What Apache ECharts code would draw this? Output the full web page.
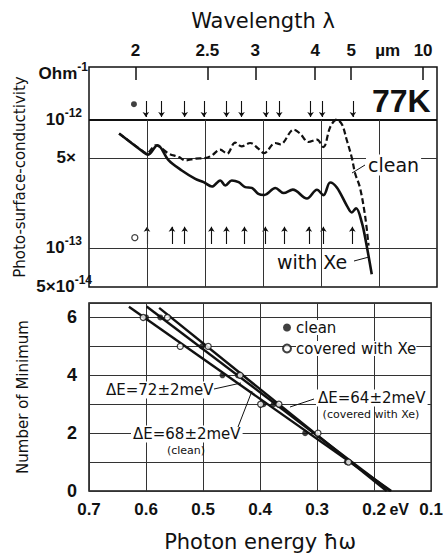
<!DOCTYPE html>
<html><head><meta charset="utf-8">
<script src="https://cdn.jsdelivr.net/npm/echarts@6/dist/echarts.min.js"></script>
<style>html,body{margin:0;padding:0;background:#fff}#c{width:446px;height:558px}</style>
</head><body><div id="c"></div>
<script>
// ---------- DATA ----------
// Top panel: photo-surface-conductivity (Ohm^-1) vs photon energy (eV)
const cleanEnergy = [0.648,0.605,0.600,0.585,0.5625,0.545,0.534,0.517,0.4995,0.488,0.474,0.462,0.448,0.437,0.422,0.408,0.398,0.379,0.370,0.347,0.336,0.3215,0.307,0.296,0.284,0.273,0.264,0.2555,0.247,0.241,0.233,0.224,0.218];
const cleanSigma  = [7.80e-13,5.60e-13,5.50e-13,6.33e-13,5.45e-13,5.12e-13,4.83e-13,4.98e-13,5.03e-13,5.28e-13,5.85e-13,5.45e-13,6.64e-13,6.21e-13,6.59e-13,5.96e-13,5.50e-13,6.59e-13,6.44e-13,8.38e-13,7.80e-13,6.71e-13,7.00e-13,6.13e-13,8.79e-13,1.00e-12,9.22e-13,6.92e-13,5.09e-13,3.80e-13,2.99e-13,1.79e-13,1.05e-13];
const xeEnergy = [0.648,0.605,0.598,0.582,0.5625,0.540,0.5167,0.5024,0.488,0.4737,0.465,0.4538,0.442,0.4307,0.4194,0.408,0.3976,0.3787,0.3644,0.3486,0.3242,0.307,0.2957,0.2842,0.2727,0.2555,0.2469,0.2395,0.2297,0.2223,0.2125];
const xeSigma  = [7.80e-13,5.55e-13,5.35e-13,6.33e-13,4.83e-13,4.03e-13,3.47e-13,3.27e-13,3.02e-13,3.37e-13,3.08e-13,3.37e-13,3.27e-13,2.99e-13,2.95e-13,2.65e-13,2.60e-13,2.94e-13,2.69e-13,2.86e-13,2.44e-13,2.85e-13,2.59e-13,3.25e-13,2.97e-13,2.15e-13,1.90e-13,2.05e-13,1.59e-13,1.11e-13,6.28e-14];
// minima marked by arrows (eV)
const cleanMinima = [0.602,0.575,0.535,0.502,0.463,0.437,0.395,0.372,0.318,0.298,0.245];
const xeMinima    = [0.600,0.557,0.535,0.489,0.463,0.432,0.396,0.363,0.321,0.296,0.246];
// symbol keys in top panel
const cleanKey = [0.6225, 1.32e-12];
const xeKey    = [0.621, 1.21e-13];
// axis ticks
const wavelengthTicks = [2, 2.5, 3, 4, 5, 10];   // µm
const unitLabelAt = 6.7;                        // where "µm" sits (µm)
const energyTicks = [0.7, 0.6, 0.5, 0.4, 0.3, 0.2, 0.1]; // eV
const sigmaTicks = [1e-12, 5e-13, 1e-13, 5e-14];
const minimumTicks = [0, 2, 4, 6];
// Bottom panel: number of minimum vs photon energy
const cleanPointE = [0.600,0.575,0.502,0.466,0.439,0.394,0.376,0.321,0.248];
const cleanPointN = [6,6,5,4,4,3,3,2,1];
const xePointE = [0.605,0.5625,0.540,0.491,0.435,0.399,0.367,0.2985,0.245];
const xePointN = [6,6,5,5,4,3,3,2,1];
const fit72 = [[0.630,6.37],[0.170,0]];
const fit68 = [[0.599,6.38],[0.172,0]];
const fit64 = [[0.577,6.33],[0.178,0]];

// ---------- STYLE / LAYOUT ----------
const HC = 1.2398; // eV·µm
const INK = '#111';
const WORD = "'DejaVu Sans', sans-serif";
const NUM = "'Liberation Sans', Arial, sans-serif";
const arrowDown = [1.40e-12, 1.05e-12];
const arrowUp = [1.08e-13, 1.47e-13];
const zip = (a, b) => a.map((v, i) => [v, b[i]]);

const chart = echarts.init(document.getElementById('c'), null, {renderer: 'svg'});
const gridLine = {color: '#333', width: 1, type: 'solid'};
const eMin = energyTicks[energyTicks.length - 1], eMax = energyTicks[0];

chart.setOption({
  animation: false,
  backgroundColor: '#fff',
  grid: [
    {left: 89, right: 9, top: 67, height: 220, show: true, borderColor: INK, borderWidth: 1.5},
    {left: 89, right: 9, top: 303, height: 188, show: true, borderColor: INK, borderWidth: 1.5}
  ],
  xAxis: [
    {gridIndex: 0, type: 'value', min: eMin, max: eMax, inverse: true, position: 'top',
     axisLine: {show: false},
     axisTick: {show: true, inside: true, length: 13, customValues: wavelengthTicks.map(l => HC / l),
                lineStyle: {color: INK, width: 1.5}},
     axisLabel: {show: true, margin: 8, fontSize: 17, fontWeight: 'bold', fontFamily: NUM, color: INK,
                 customValues: wavelengthTicks.map(l => HC / l).concat([HC / unitLabelAt]),
                 formatter: v => { const l = HC / v; return Math.abs(l - unitLabelAt) < 1e-6 ? 'µm' : String(+l.toFixed(1)); }},
     splitLine: {show: false},
     name: 'Wavelength λ', nameLocation: 'middle', nameGap: 36,
     nameTextStyle: {fontSize: 21, fontFamily: WORD, color: INK}},
    {gridIndex: 1, type: 'value', min: eMin, max: eMax, inverse: true, interval: 0.1, position: 'bottom',
     axisLine: {show: false}, axisTick: {show: false},
     axisLabel: {margin: 10, fontSize: 17, fontWeight: 'bold', fontFamily: NUM, color: INK,
                 formatter: v => { const s = v.toFixed(1); return s === '0.2' ? '{pad|}' + s + '{u| eV}' : s; },
                 rich: {pad: {width: 22}, u: {width: 22, align: 'left', fontSize: 16, fontFamily: NUM, fontWeight: 'bold', color: INK}}},
     splitLine: {show: true, lineStyle: gridLine},
     name: 'Photon energy ħω', nameLocation: 'middle', nameGap: 40,
     nameTextStyle: {fontSize: 21, fontFamily: WORD, color: INK}}
  ],
  yAxis: [
    {gridIndex: 0, type: 'log', logBase: 10, min: 5e-14, max: 2.57e-12,
     axisLine: {show: false}, axisTick: {show: false}, axisLabel: {show: false}, splitLine: {show: false},
     name: 'Photo-surface-conductivity', nameLocation: 'middle', nameGap: 62,
     nameTextStyle: {fontSize: 15, fontFamily: WORD, color: INK}},
    {gridIndex: 1, type: 'value', min: 0, max: 6.5, interval: 1,
     axisLine: {show: false}, axisTick: {show: false},
     axisLabel: {customValues: minimumTicks, margin: 12, fontSize: 18, fontWeight: 'bold', fontFamily: NUM, color: INK},
     splitLine: {show: true, lineStyle: gridLine},
     name: 'Number of Minimum', nameLocation: 'middle', nameGap: 59,
     nameTextStyle: {fontSize: 15, fontFamily: WORD, color: INK}}
  ],
  legend: {
    show: true, orient: 'vertical', left: 277, top: 315, itemGap: 6, itemWidth: 8, itemHeight: 8,
    data: ['clean', 'covered with Xe'],
    textStyle: {fontSize: 15, fontFamily: WORD, color: INK, backgroundColor: '#fff'}
  },
  series: [
    {name: 'clean curve', type: 'line', xAxisIndex: 0, yAxisIndex: 0, data: zip(cleanEnergy, cleanSigma),
     smooth: 0.35, showSymbol: false, lineStyle: {color: INK, width: 2.2, type: [6, 3]}, z: 5,
     markLine: {silent: true, symbol: 'none', label: {show: false},
       data: [
         [{coord: [eMax, sigmaTicks[0]], lineStyle: {color: INK, width: 2, type: 'solid'}}, {coord: [eMin, sigmaTicks[0]]}],
         [{coord: [eMax, sigmaTicks[1]], lineStyle: gridLine}, {coord: [eMin, sigmaTicks[1]]}],
         [{coord: [eMax, sigmaTicks[2]], lineStyle: gridLine}, {coord: [eMin, sigmaTicks[2]]}]
       ].concat(energyTicks.slice(1, -1).map(e => [
         {coord: [e, sigmaTicks[0]], lineStyle: gridLine}, {coord: [e, sigmaTicks[3]]}
       ]))}},
    {name: 'with Xe curve', type: 'line', xAxisIndex: 0, yAxisIndex: 0, data: zip(xeEnergy, xeSigma),
     smooth: 0.35, showSymbol: false, lineStyle: {color: INK, width: 2.6}, z: 5},
    {type: 'lines', coordinateSystem: 'cartesian2d', xAxisIndex: 0, yAxisIndex: 0,
     data: cleanMinima.map(e => ({coords: [[e, arrowDown[0]], [e, arrowDown[1]]]})),
     symbol: ['none', 'arrow'], symbolSize: 5, lineStyle: {color: INK, width: 1.1, opacity: 1}},
    {type: 'lines', coordinateSystem: 'cartesian2d', xAxisIndex: 0, yAxisIndex: 0,
     data: xeMinima.map(e => ({coords: [[e, arrowUp[0]], [e, arrowUp[1]]]})),
     symbol: ['none', 'arrow'], symbolSize: 5, lineStyle: {color: INK, width: 1.1, opacity: 1}},
    {type: 'scatter', xAxisIndex: 0, yAxisIndex: 0, data: [cleanKey], symbolSize: 6, itemStyle: {color: INK}},
    {type: 'scatter', xAxisIndex: 0, yAxisIndex: 0, data: [xeKey], symbolSize: 6,
     itemStyle: {color: '#fff', borderColor: INK, borderWidth: 1.3}},
    {type: 'line', xAxisIndex: 1, yAxisIndex: 1, data: fit72, showSymbol: false, lineStyle: {color: INK, width: 2.4}},
    {type: 'line', xAxisIndex: 1, yAxisIndex: 1, data: fit68, showSymbol: false, lineStyle: {color: INK, width: 2.4}},
    {type: 'line', xAxisIndex: 1, yAxisIndex: 1, data: fit64, showSymbol: false, lineStyle: {color: INK, width: 2.4}},
    {name: 'clean', type: 'scatter', xAxisIndex: 1, yAxisIndex: 1, data: zip(cleanPointE, cleanPointN),
     symbolSize: 6, itemStyle: {color: INK}, z: 6},
    {name: 'covered with Xe', type: 'scatter', xAxisIndex: 1, yAxisIndex: 1, data: zip(xePointE, xePointN),
     symbolSize: 6, itemStyle: {color: '#fff', borderColor: INK, borderWidth: 1.3}, z: 7}
  ]
});

// ---------- text annotations ----------
const supRich = {
  m: {fontSize: 17, fontWeight: 'bold', fontFamily: NUM, lineHeight: 22, verticalAlign: 'bottom', fill: INK},
  s: {fontSize: 12, fontWeight: 'bold', fontFamily: NUM, lineHeight: 12, padding: [0, 0, 9, 0], verticalAlign: 'bottom', fill: INK}
};
function sigmaLabel(v) {
  const exp = Math.floor(Math.log10(v) + 1e-9);
  const mant = Math.round(v / Math.pow(10, exp));
  if (mant === 1) return '{m|10}{s|' + exp + '}';
  return mant === 5 && exp === -13 ? '{m|5×}' : '{m|' + mant + '×10}{s|' + exp + '}';
}
const txt = (x, y, text, size, opts) => ({
  type: 'text', x: x, y: y, silent: true, z: 50,
  style: Object.assign({text: text, fontSize: size, fontFamily: WORD, fill: INK,
    align: 'left', verticalAlign: 'middle', textAlign: 'left', textVerticalAlign: 'middle'}, opts || {})
});
const ln = (x1, y1, x2, y2) => ({type: 'line', silent: true, z: 50, shape: {x1, y1, x2, y2}, style: {stroke: INK, lineWidth: 1}});
const boxed = {backgroundColor: '#fff', padding: [1, 2, 1, 2]};

const g = [];
sigmaTicks.forEach(v => {
  const py = chart.convertToPixel({yAxisIndex: 0}, v);
  const right = v === 5e-13 ? 76 : (v === 5e-14 ? 92 : 82);
  g.push({type: 'text', x: right, y: py - 3, silent: true,
    style: {text: sigmaLabel(v), rich: supRich, fill: INK, fontFamily: NUM, fontWeight: 'bold', fontSize: 17,
            align: 'right', verticalAlign: 'middle', textAlign: 'right', textVerticalAlign: 'middle'}});
});
const topPy = chart.convertToPixel({yAxisIndex: 0}, 2.57e-12);
g.push({type: 'text', x: 88, y: topPy + 4, silent: true,
  style: {text: '{m|Ohm}{s|-1}', rich: supRich, fill: INK, align: 'right', verticalAlign: 'middle', textAlign: 'right', textVerticalAlign: 'middle'}});

g.push(txt(372, 101, '77K', 32, {fontFamily: NUM, fontWeight: 'bold'}));
g.push(txt(366, 165, 'clean', 19, boxed));
g.push(ln(352, 173, 365, 165));
g.push(txt(277, 262, 'with Xe', 19));
g.push(ln(354, 261, 369, 257));

g.push(txt(104, 390, 'ΔE=72±2meV', 15, boxed));
g.push(ln(214, 389, 241, 383));
g.push(txt(131, 434, 'ΔE=68±2meV', 15, boxed));
g.push(txt(186, 450, '(clean)', 11, {align: 'center', textAlign: 'center'}));
g.push(ln(238, 427, 252, 391));
g.push(txt(316, 398, 'ΔE=64±2meV', 15, boxed));
g.push(txt(371, 414, '(covered with Xe)', 11, {align: 'center', textAlign: 'center'}));
g.push(ln(314, 399, 290, 407));

chart.setOption({graphic: g});
</script>
</body></html>
